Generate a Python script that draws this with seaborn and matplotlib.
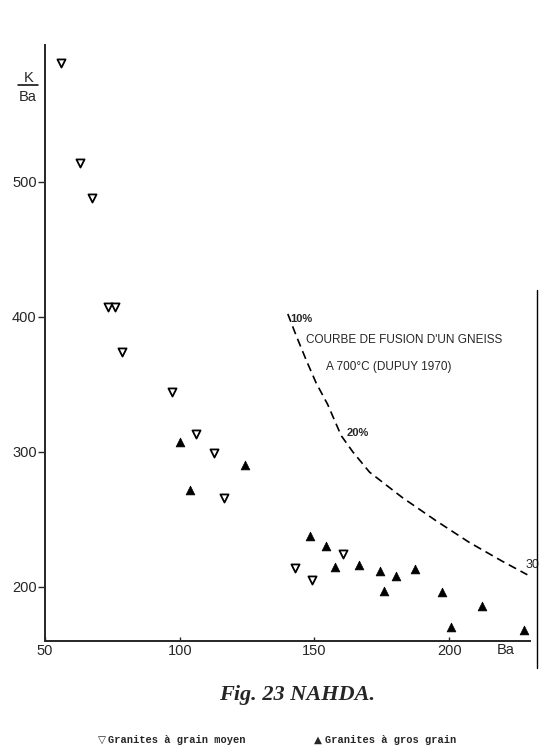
import seaborn as sns
import numpy as np
import matplotlib.pyplot as plt
import pandas as pd
from matplotlib.lines import Line2D

# granites a grain moyen (open, pointing down)
moyen_ba = [55.8, 63.0, 67.5, 73.4, 75.9, 78.5, 97.2, 106.2, 112.6, 116.3, 142.6, 149.1, 160.7]
moyen_kba = [588, 514, 488, 407, 407, 374, 344, 313, 299, 266, 214, 205, 224]

# granites a gros grain (filled, pointing up)
gros_ba = [100.1, 103.7, 124.1, 148.4, 154.3, 157.7, 166.7, 174.3, 175.7, 180.2, 187.3, 197.5, 200.8, 212.0, 227.8]
gros_kba = [307, 272, 290, 238, 230, 215, 216, 212, 197, 208, 213, 196, 170, 186, 168]

# courbe de fusion d'un gneiss a 700 C (Dupuy 1970)
curve_ba = [140.1, 143.2, 146.9, 150.6, 154.9, 159.9, 164.2, 170.4, 182.7, 195.1, 207.4, 219.7, 229.0]
curve_kba = [402, 386, 368, 351, 335, 312, 300, 285, 266, 249, 233, 219, 209]

x_ticks = [50, 100, 150, 200]
y_ticks = [200, 300, 400, 500]

sns.set_style("ticks")
plt.rcParams['font.family'] = ['Liberation Sans', 'DejaVu Sans']

moyen = pd.DataFrame({'Ba': moyen_ba, 'KBa': moyen_kba})
gros = pd.DataFrame({'Ba': gros_ba, 'KBa': gros_kba})
curve = pd.DataFrame({'Ba': curve_ba, 'KBa': curve_kba})

fig = plt.figure(figsize=(5.47, 7.54), dpi=100)
ax = fig.add_axes([0.0823, 0.1499, 0.8867, 0.7904])

sns.lineplot(data=curve, x='Ba', y='KBa', sort=False, ax=ax, color='black',
             linestyle=(0, (5, 3)), linewidth=1.2)
sns.scatterplot(data=moyen, x='Ba', y='KBa', ax=ax, marker='v', s=34,
                facecolor='white', edgecolor='black', linewidth=1.3, zorder=3)
sns.scatterplot(data=gros, x='Ba', y='KBa', ax=ax, marker='^', s=40,
                color='black', edgecolor='black', linewidth=0.5, zorder=3)

ax.set_xlim(50, 230)
ax.set_ylim(160, 601)
ax.set_xticks(x_ticks)
ax.set_yticks(y_ticks)
ax.set_xlabel('')
ax.set_ylabel('')
sns.despine(ax=ax)
ax.spines['left'].set_linewidth(1.4)
ax.spines['bottom'].set_linewidth(1.4)
ax.tick_params(axis='x', direction='in', length=3, width=1, pad=2, labelsize=10.5)
ax.tick_params(axis='y', direction='out', length=5, width=1, pad=1, labelsize=10.5)

# annotations of the melting curve
ax.text(141.1, 398, '10%', fontsize=8, ha='left', va='center', fontweight='bold')
ax.text(146.7, 383, "COURBE DE FUSION D'UN GNEISS", fontsize=8.5, ha='left', va='center')
ax.text(154.4, 363, 'A 700°C (DUPUY 1970)', fontsize=8.5, ha='left', va='center')
ax.text(161.9, 314, '20%', fontsize=8, ha='left', va='center', fontweight='bold')
ax.text(228.5, 216, '30', fontsize=9, ha='left', va='center', clip_on=False)

# axis labels K/Ba and Ba
fig.text(29 / 547, 1 - 78 / 754, 'K', fontsize=10.5, ha='center', va='center')
fig.add_artist(Line2D([18 / 547, 38 / 547], [1 - 85 / 754, 1 - 85 / 754], color='black', linewidth=1.1))
fig.text(28 / 547, 1 - 97 / 754, 'Ba', fontsize=10.5, ha='center', va='center')
fig.text(506 / 547, 1 - 650 / 754, 'Ba', fontsize=10.5, ha='center', va='center')

# scan edge on the right
fig.add_artist(Line2D([537 / 547, 537 / 547], [1 - 290 / 754, 1 - 668 / 754], color='black', linewidth=1))

fig.text(297 / 547, 1 - 695 / 754, 'Fig. 23 NAHDA.', fontsize=16, ha='center', va='center',
         family=['Liberation Serif'], fontweight='bold', fontstyle='italic')

# legend line under the figure
fig.text(98 / 547, 1 - 740 / 754, '▽', fontsize=7.5, ha='left', va='center', family=['DejaVu Sans'])
fig.text(108 / 547, 1 - 740 / 754, 'Granites à grain moyen', fontsize=7.5, ha='left', va='center',
         family=['Liberation Mono'], fontweight='bold')
fig.text(314 / 547, 1 - 740 / 754, '▲', fontsize=7.5, ha='left', va='center', family=['DejaVu Sans'])
fig.text(325 / 547, 1 - 740 / 754, 'Granites à gros grain', fontsize=7.5, ha='left', va='center',
         family=['Liberation Mono'], fontweight='bold')

fig.savefig('out.png', dpi=100)
plt.close()
